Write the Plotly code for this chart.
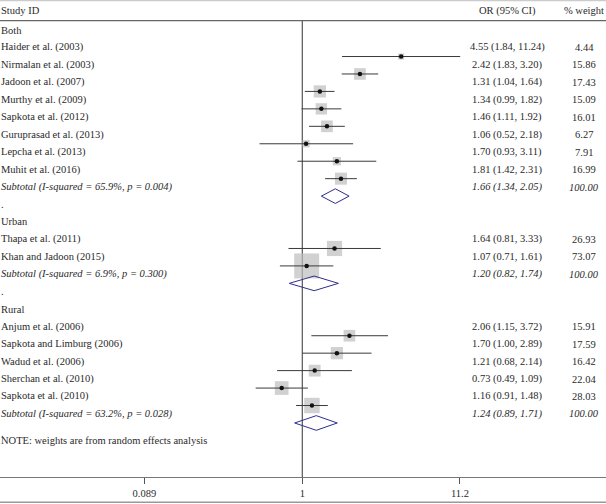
import math
import plotly.graph_objects as go

# ---------------- data ----------------
group_names = ["Both", "Urban", "Rural"]

both_studies = ["Haider et al. (2003)", "Nirmalan et al. (2003)", "Jadoon et al. (2007)",
                "Murthy et al. (2009)", "Sapkota et al. (2012)", "Guruprasad et al. (2013)",
                "Lepcha et al. (2013)", "Muhit et al. (2016)"]
both_or = [4.55, 2.42, 1.31, 1.34, 1.46, 1.06, 1.70, 1.81]
both_lo = [1.84, 1.83, 1.04, 0.99, 1.11, 0.52, 0.93, 1.42]
both_hi = [11.24, 3.20, 1.64, 1.82, 1.92, 2.18, 3.11, 2.31]
both_w = [4.44, 15.86, 17.43, 15.09, 16.01, 6.27, 7.91, 16.99]

urban_studies = ["Thapa et al. (2011)", "Khan and Jadoon (2015)"]
urban_or = [1.64, 1.07]
urban_lo = [0.81, 0.71]
urban_hi = [3.33, 1.61]
urban_w = [26.93, 73.07]

rural_studies = ["Anjum et al. (2006)", "Sapkota and Limburg (2006)", "Wadud et al. (2006)",
                 "Sherchan et al. (2010)", "Sapkota et al. (2010)"]
rural_or = [2.06, 1.70, 1.21, 0.73, 1.16]
rural_lo = [1.15, 1.00, 0.68, 0.49, 0.91]
rural_hi = [3.72, 2.89, 2.14, 1.09, 1.48]
rural_w = [15.91, 17.59, 16.42, 22.04, 28.03]

subtotal_labels = ["Subtotal (I-squared = 65.9%, p = 0.004)",
                   "Subtotal (I-squared = 6.9%, p = 0.300)",
                   "Subtotal (I-squared = 63.2%, p = 0.028)"]
subtotal_or = [1.66, 1.20, 1.24]
subtotal_lo = [1.34, 0.82, 0.89]
subtotal_hi = [2.05, 1.74, 1.71]
subtotal_w = [100.00, 100.00, 100.00]

tick_vals = [0.089, 1, 11.2]
tick_text = ["0.089", "1", "11.2"]

note_text = "NOTE: weights are from random effects analysis"

# ---------------- layout constants ----------------
W, H = 606, 504
FONT = "Liberation Serif"
FS = 10.5
TXT = "#2a2a2a"
MARK_OFF = 0.52      # marks sit about half a row below their label
BOX_K = 2.92         # px per sqrt(weight)
DIAM_H = 0.42        # diamond half-height in rows

groups = [
    (both_studies, both_or, both_lo, both_hi, both_w),
    (urban_studies, urban_or, urban_lo, urban_hi, urban_w),
    (rural_studies, rural_or, rural_lo, rural_hi, rural_w),
]

fig = go.Figure()
annotations = []


def label(row, text, x=0.0, anchor="left", italic=False):
    annotations.append(dict(
        x=x, y=row, xref="paper", yref="y", text=(f"<i>{text}</i>" if italic else text),
        showarrow=False, xanchor=anchor, yanchor="middle", borderpad=0,
        font=dict(family=FONT, size=FS, color=TXT)))


COL_OR = 507 / W
COL_W = 584 / W

# header
label(-0.1, "Study ID")
label(-0.1, "OR (95% CI)", x=COL_OR, anchor="center")
label(-0.1, "% weight", x=584 / W, anchor="center")

box_x, box_y, box_s = [], [], []
ci_x, ci_y = [], []
dot_x, dot_y = [], []
dia_x, dia_y = [], []

row = 1
for gi, (names, ors, los, his, ws) in enumerate(groups):
    label(row, group_names[gi])
    row += 1
    for n, o, lo, hi, w in zip(names, ors, los, his, ws):
        label(row, n)
        label(row, f"{o:.2f} ({lo:.2f}, {hi:.2f})", x=COL_OR, anchor="center")
        label(row, f"{w:.2f}", x=COL_W, anchor="center")
        ym = row + MARK_OFF
        box_x.append(o); box_y.append(ym); box_s.append(BOX_K * math.sqrt(w))
        dot_x.append(o); dot_y.append(ym)
        ci_x += [lo, hi, None]; ci_y += [ym, ym, None]
        row += 1
    # subtotal
    label(row, subtotal_labels[gi], italic=True)
    label(row, f"{subtotal_or[gi]:.2f} ({subtotal_lo[gi]:.2f}, {subtotal_hi[gi]:.2f})",
          x=COL_OR, anchor="center", italic=True)
    label(row, f"{subtotal_w[gi]:.2f}", x=COL_W, anchor="center", italic=True)
    ym = row + MARK_OFF
    dia_x += [subtotal_lo[gi], subtotal_or[gi], subtotal_hi[gi], subtotal_or[gi], subtotal_lo[gi], None]
    dia_y += [ym, ym - DIAM_H, ym, ym + DIAM_H, ym, None]
    row += 1
    if gi < len(groups) - 1:
        label(row, ".")
    row += 1

# final "." sits just above the N of the note, as in the original
label(row - 1 + 0.5, note_text)
label(row - 1 + 0.12, ".")

Y_TOP = -0.719
Y_BOT = 26.616
HEADER_ROW = 0.467

# reference line at OR = 1
fig.add_trace(go.Scatter(x=[1, 1], y=[HEADER_ROW, Y_BOT], mode="lines",
                         line=dict(color="#333333", width=1), hoverinfo="skip"))
# boxes
fig.add_trace(go.Scatter(x=box_x, y=box_y, mode="markers",
                         marker=dict(symbol="square", size=box_s, color="#bdbdbd",
                                     line=dict(width=0)), hoverinfo="skip"))
# CI lines
fig.add_trace(go.Scatter(x=ci_x, y=ci_y, mode="lines",
                         line=dict(color="#3a3a3a", width=1), hoverinfo="skip"))
# point estimates
fig.add_trace(go.Scatter(x=dot_x, y=dot_y, mode="markers",
                         marker=dict(symbol="circle", size=4.5, color="#111111"), hoverinfo="skip"))
# diamonds
fig.add_trace(go.Scatter(x=dia_x, y=dia_y, mode="lines",
                         line=dict(color="#2e2e8f", width=1), hoverinfo="skip"))

shapes = [
    dict(type="line", xref="paper", yref="y", x0=0, x1=1, y0=HEADER_ROW, y1=HEADER_ROW,
         line=dict(color="#666666", width=1.2)),
    dict(type="line", xref="paper", yref="paper", x0=0, x1=1, y0=0.999, y1=0.999,
         line=dict(color="#cccccc", width=1.5)),
    dict(type="line", xref="paper", yref="paper", x0=0, x1=1, y0=-(502.3 - 477) / 477,
         y1=-(502.3 - 477) / 477, line=dict(color="#999999", width=1.5)),
]

fig.update_layout(
    width=W, height=H,
    margin=dict(l=0, r=0, t=0, b=27),
    paper_bgcolor="white", plot_bgcolor="white",
    showlegend=False,
    annotations=annotations,
    shapes=shapes,
    xaxis=dict(type="log", range=[-2.011, 2.021], showgrid=False, zeroline=False,
               showline=True, linecolor="#777777", linewidth=1,
               ticks="outside", ticklen=6, tickcolor="#555555",
               tickvals=tick_vals, ticktext=tick_text,
               tickfont=dict(family=FONT, size=FS, color=TXT)),
    yaxis=dict(range=[Y_BOT, Y_TOP], visible=False, showgrid=False, zeroline=False),
)

fig.write_html("out.html", config={"displayModeBar": False},
               post_script="document.body.style.margin='0px';")
